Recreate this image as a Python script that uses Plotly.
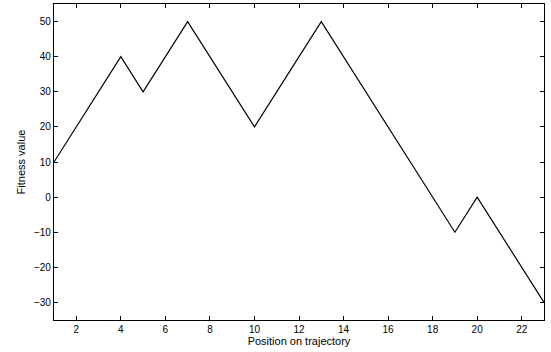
import plotly.graph_objects as go

positions = [1, 4, 5, 7, 10, 13, 19, 20, 23]
fitness = [10, 40, 30, 50, 20, 50, -10, 0, -30]

x_ticks = [2, 4, 6, 8, 10, 12, 14, 16, 18, 20, 22]
y_ticks = [-30, -20, -10, 0, 10, 20, 30, 40, 50]

fig = go.Figure()
fig.add_trace(go.Scatter(x=positions, y=fitness, mode="lines",
                         line=dict(color="black", width=1.2), showlegend=False))

axis_common = dict(showline=True, linecolor="black", linewidth=1.3, mirror="ticks",
                   ticks="inside", ticklen=4, tickcolor="black", tickwidth=1,
                   showgrid=False, zeroline=False,
                   tickfont=dict(family="Liberation Sans, Arial", size=10, color="black"))

fig.update_xaxes(range=[1, 23], tickvals=x_ticks,
                 title=dict(text="Position on trajectory", standoff=2,
                            font=dict(family="Liberation Sans, Arial", size=11, color="black")),
                 **axis_common)
fig.update_yaxes(range=[-35, 55], tickvals=y_ticks,
                 title=dict(text="Fitness value", standoff=6,
                            font=dict(family="Liberation Sans, Arial", size=11, color="black")),
                 **axis_common)

fig.update_layout(width=551, height=352, margin=dict(l=54, r=7, t=4, b=32),
                  plot_bgcolor="white", paper_bgcolor="white")

fig.write_html("out.html", config={"displayModeBar": False},
               post_script="document.body.style.margin='0';document.body.style.overflow='hidden';")
